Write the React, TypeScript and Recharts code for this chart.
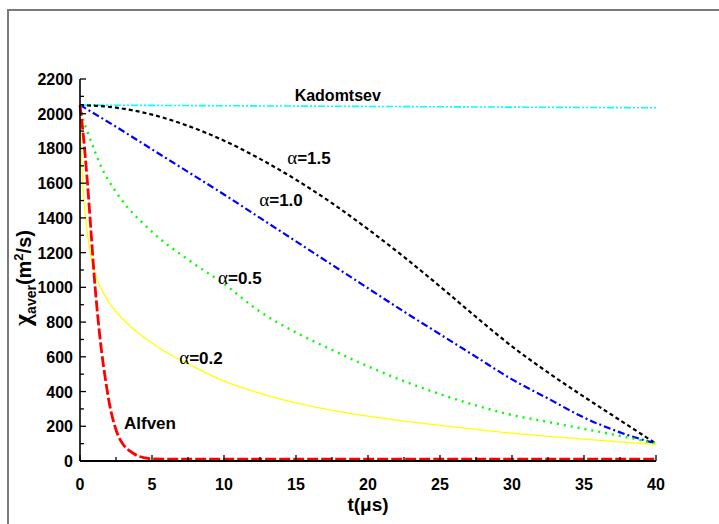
import { LineChart, Line, XAxis, YAxis, ReferenceDot } from "recharts";

const FONT = "'Liberation Sans', Arial, Helvetica, sans-serif";
const SERIF = "'Liberation Serif', 'Times New Roman', serif";

// time axis (μs) and averaged diffusivity (m²/s) per model
const kadomtsevT = [0, 5, 10, 15, 20, 25, 30, 35, 40];
const kadomtsevV = [2050, 2048, 2046, 2044, 2042, 2040, 2038, 2036, 2034];

const a15T = [0, 2.5, 5, 7.5, 10, 12.5, 15, 17.5, 20, 22.5, 25, 27.5, 30, 32.5, 35, 37.5, 40];
const a15V = [2050, 2035, 1995, 1930, 1845, 1740, 1620, 1485, 1335, 1175, 1005, 830, 660, 510, 370, 235, 100];

const a10T = [0, 2.5, 5, 7.5, 10, 12.5, 15, 17.5, 20, 22.5, 25, 27.5, 30, 32.5, 35, 37.5, 40];
const a10V = [2050, 1925, 1795, 1665, 1535, 1400, 1265, 1130, 995, 860, 730, 600, 470, 360, 250, 165, 100];

const a05T = [0, 0.25, 0.5, 1, 1.5, 2.5, 5, 7.5, 10, 12.5, 15, 17.5, 20, 22.5, 25, 27.5, 30, 32.5, 35, 37.5, 40];
const a05V = [2050, 1960, 1900, 1790, 1690, 1550, 1320, 1160, 1020, 860, 740, 640, 545, 460, 385, 320, 265, 225, 185, 145, 100];

const a02T = [0, 0.1, 0.25, 0.5, 0.75, 1, 1.5, 2, 3, 4, 5, 6, 7.5, 10, 12.5, 15, 17.5, 20, 22.5, 25, 27.5, 30, 32.5, 35, 37.5, 40];
const a02V = [1990, 1750, 1530, 1320, 1180, 1090, 990, 915, 815, 740, 680, 625, 560, 460, 390, 335, 292, 258, 230, 205, 182, 160, 142, 126, 110, 95];

const alfvenT = [0, 0.25, 0.5, 0.75, 1, 1.25, 1.5, 1.75, 2, 2.5, 3, 3.5, 4, 4.5, 5, 7.5, 10, 20, 30, 40];
const alfvenV = [2050, 1860, 1620, 1340, 1050, 820, 630, 480, 350, 180, 95, 55, 30, 18, 12, 10, 10, 10, 10, 10];

const xTicks = [0, 2.5, 5, 7.5, 10, 12.5, 15, 17.5, 20, 22.5, 25, 27.5, 30, 32.5, 35, 37.5, 40];
const yTicks = [0, 100, 200, 300, 400, 500, 600, 700, 800, 900, 1000, 1100, 1200, 1300, 1400, 1500, 1600, 1700, 1800, 1900, 2000, 2100, 2200];

// curve captions, anchored in data space
const captions = [
  { t: 17.9, v: 2108, text: "Kadomtsev", size: 16, serifAlpha: false },
  { t: 15.9, v: 1745, text: "=1.5", size: 17, serifAlpha: true },
  { t: 13.96, v: 1503, text: "=1.0", size: 17, serifAlpha: true },
  { t: 11.1, v: 1054, text: "=0.5", size: 17, serifAlpha: true },
  { t: 8.4, v: 593, text: "=0.2", size: 17, serifAlpha: true },
  { t: 4.86, v: 219, text: "Alfven", size: 17, serifAlpha: false },
];

const pts = (ts: number[], vs: number[]) => ts.map((t, i) => ({ t, v: vs[i] }));

const series = [
  { key: "kad", data: pts(kadomtsevT, kadomtsevV), color: "#00FFFF", width: 1.6, dash: "7 2 2 2 2 2" },
  { key: "a15", data: pts(a15T, a15V), color: "#000000", width: 2.2, dash: "4 3" },
  { key: "a10", data: pts(a10T, a10V), color: "#0000FF", width: 2.2, dash: "7 3 2 3" },
  { key: "a05", data: pts(a05T, a05V), color: "#00FF00", width: 2.4, dash: "2 5" },
  { key: "a02", data: pts(a02T, a02V), color: "#FFFF00", width: 1.3, dash: undefined },
  { key: "alf", data: pts(alfvenT, alfvenV), color: "#FF0000", width: 2.8, dash: "11 3" },
];

const XTick = (props: any) => {
  const { x, y, payload } = props;
  const major = payload.value % 5 === 0;
  return (
    <g>
      <line x1={x} x2={x} y1={y} y2={y - (major ? 6 : 4)} stroke="#000" strokeWidth={1.3} />
      {major && (
        <text x={x} y={y + 29} textAnchor="middle" fontFamily={FONT} fontWeight="bold" fontSize={16} fill="#000">
          {payload.value}
        </text>
      )}
    </g>
  );
};

const YTick = (props: any) => {
  const { x, y, payload } = props;
  const major = payload.value % 200 === 0;
  return (
    <g>
      <line x1={x} x2={x + (major ? 6 : 4)} y1={y} y2={y} stroke="#000" strokeWidth={1.3} />
      {major && (
        <text x={x - 7} y={y + 6} textAnchor="end" fontFamily={FONT} fontWeight="bold" fontSize={16} fill="#000">
          {payload.value}
        </text>
      )}
    </g>
  );
};

const XTitle = (props: any) => {
  const { x, y, width } = props.viewBox;
  return (
    <text x={x + width / 2} y={y + 50} textAnchor="middle" fontFamily={FONT} fontWeight="bold" fontSize={19} fill="#000">
      t(μs)
    </text>
  );
};

const YTitle = (props: any) => {
  const { y, height } = props.viewBox;
  const cx = 31;
  const cy = y + height / 2 + 8;
  return (
    <text
      x={cx}
      y={cy}
      transform={`rotate(-90 ${cx} ${cy})`}
      textAnchor="middle"
      fontFamily={FONT}
      fontWeight="bold"
      fontSize={20}
      fill="#000"
    >
      <tspan fontFamily={SERIF} fontSize={26}>χ</tspan>
      <tspan fontSize={14} dy={5}>aver</tspan>
      <tspan dy={-5}>(m</tspan>
      <tspan fontSize={13} dy={-8}>2</tspan>
      <tspan dy={8}>/s)</tspan>
    </text>
  );
};

const Caption = (c: (typeof captions)[number]) => (props: any) => {
  const { x, y, width, height } = props.viewBox;
  const cx = x + width / 2;
  const cy = y + height / 2 + c.size * 0.36;
  return (
    <text x={cx} y={cy} textAnchor="middle" fontFamily={FONT} fontWeight="bold" fontSize={c.size} fill="#000">
      {c.serifAlpha && (
        <tspan fontFamily={SERIF} fontWeight="normal" fontSize={c.size + 2}>
          α
        </tspan>
      )}
      {c.text}
    </text>
  );
};

export default function App() {
  return (
    <div style={{ position: "absolute", left: 0, top: 0, width: 719, height: 524, background: "#fff" }}>
      <div
        style={{
          position: "absolute",
          left: 7,
          top: 9,
          width: 740,
          height: 540,
          borderTop: "2px solid #7a7a7a",
          borderLeft: "2px solid #7a7a7a",
        }}
      />
      <LineChart width={719} height={524} margin={{ top: 79, right: 63, bottom: 0, left: 0 }} style={{ position: "absolute", left: 0, top: 0 }}>
        <XAxis
          dataKey="t"
          type="number"
          domain={[0, 40]}
          ticks={xTicks}
          interval={0}
          height={63}
          tickSize={0}
          tickMargin={0}
          tick={<XTick />}
          axisLine={{ stroke: "#000", strokeWidth: 2 }}
          label={<XTitle />}
        />
        <YAxis
          type="number"
          domain={[0, 2200]}
          ticks={yTicks}
          interval={0}
          width={80}
          tickSize={0}
          tickMargin={0}
          tick={<YTick />}
          axisLine={{ stroke: "#000", strokeWidth: 1.6 }}
          label={<YTitle />}
        />
        {series.map((s) => (
          <Line
            key={s.key}
            data={s.data}
            dataKey="v"
            type="monotone"
            stroke={s.color}
            strokeWidth={s.width}
            strokeDasharray={s.dash}
            dot={false}
            activeDot={false}
            isAnimationActive={false}
          />
        ))}
        {captions.map((c) => (
          <ReferenceDot key={c.text} x={c.t} y={c.v} r={0} fill="none" stroke="none" label={Caption(c)} />
        ))}
      </LineChart>
    </div>
  );
}
